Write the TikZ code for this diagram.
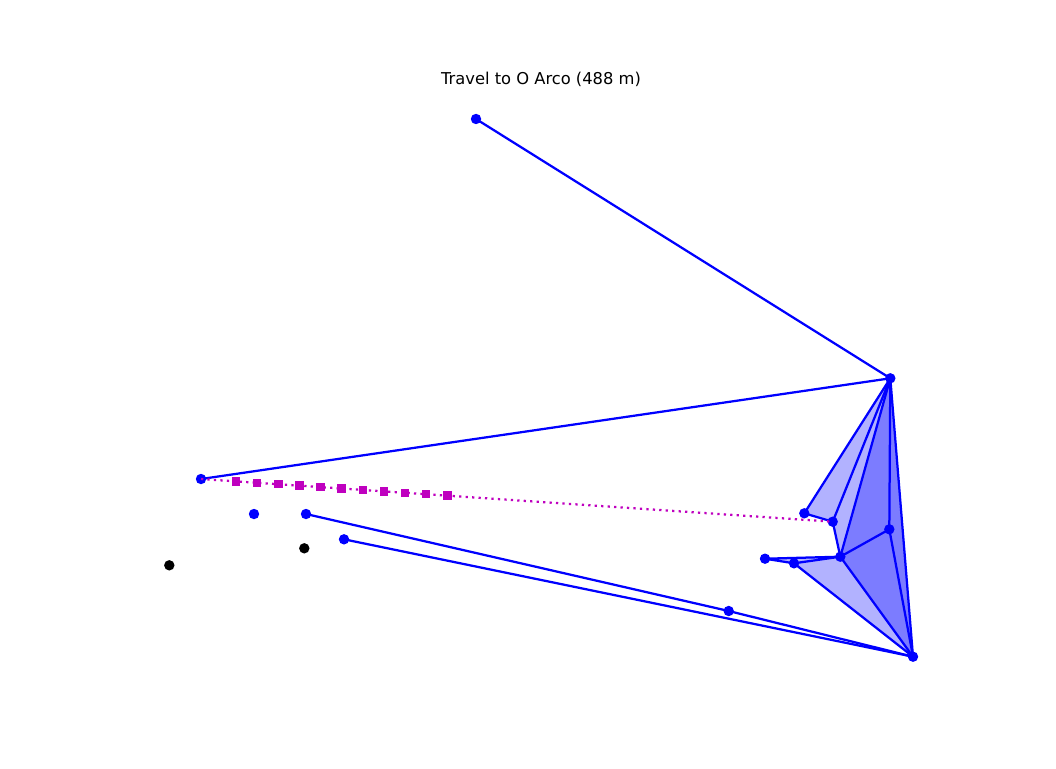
\documentclass[tikz,border=0pt]{standalone}
\usepackage{fontspec}
\setmainfont{DejaVu Sans}
\usetikzlibrary{calc}
\definecolor{RouteBlue}{HTML}{0000FF}
\definecolor{WalkMag}{HTML}{BF00BF}
\tikzset{
  maptitle/.style={font=\fontsize{11.6}{14}\selectfont, text=black},
  stopdot/.style={circle, fill=RouteBlue, draw=none, inner sep=0pt, minimum size=7.4pt},
  otherdot/.style={stopdot, fill=black},
  walkmark/.style={rectangle, fill=WalkMag, draw=none, inner sep=0pt, minimum size=6pt},
  routeline/.style={draw=RouteBlue, line width=1.6pt, line join=round},
  facefill/.style={fill=RouteBlue, fill opacity=0.3, draw=none},
  walkline/.style={draw=WalkMag, line width=1.6pt, dash pattern=on 1.6pt off 3pt}
}

\begin{document}
\begin{tikzpicture}[x=0.025cm, y=-0.025cm]
\useasboundingbox (0,0) rectangle (1056,768);
\node[maptitle] (title) at (541,79.5) {Travel to O Arco (488 m)};
\coordinate (top) at (476,119);
\coordinate (hub) at (890.3,378.3);
\coordinate (west) at (201,479);
\coordinate (lone) at (254,514);
\coordinate (s1) at (306,514);
\coordinate (s2) at (344,539.3);
\coordinate (mid) at (728.7,611);
\coordinate (foot) at (913,656.7);
\coordinate (f1) at (804.3,513.3);
\coordinate (f2) at (832.7,521.7);
\coordinate (f3) at (840.3,556.7);
\coordinate (f4) at (889.3,529.3);
\coordinate (f5) at (765,558.7);
\coordinate (f6) at (794,563.3);
\coordinate (k1) at (304.3,548.3);
\coordinate (k2) at (169.3,565.3);
\path[facefill] (hub) -- (f1) -- (f2) -- (f3) -- (f5) -- (f6) -- (foot) -- cycle;
\path[facefill] (hub) -- (f3) -- (foot) -- cycle;
\draw[routeline] (top) -- (hub) -- (west);
\draw[routeline] (s1) -- (mid) -- (foot);
\draw[routeline] (s2) -- (foot);
\draw[routeline] (hub) -- (f1) -- (f2) -- (f3) -- (foot) -- (hub);
\draw[routeline] (hub) -- (f2);
\draw[routeline] (hub) -- (f3) -- (f4) -- (foot);
\draw[routeline] (hub) -- (f4);
\draw[routeline] (f3) -- (f5) -- (f6) -- (f3);
\draw[routeline] (f6) -- (foot);
\foreach \p in {top,hub,west,lone,s1,s2,mid,foot,f1,f2,f3,f4,f5,f6}
  \node[stopdot] (dot-\p) at (\p) {};
\node[otherdot] (dot-k1) at (k1) {};
\node[otherdot] (dot-k2) at (k2) {};
\draw[walkline] (west) -- (f2);
\foreach \i in {0,...,10}
  \node[walkmark] (walk-\i) at ($(west)!{0.0555+0.03344*\i}!(f2)$) {};
\end{tikzpicture}
\end{document}
